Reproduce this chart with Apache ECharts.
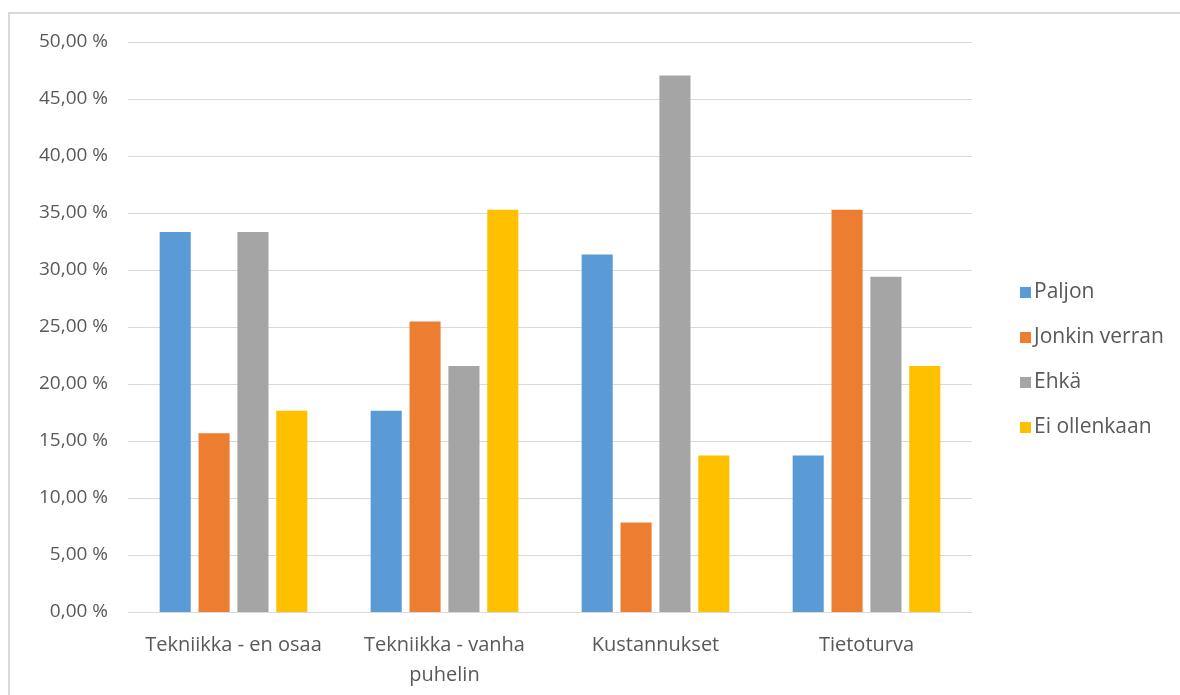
<!DOCTYPE html>
<html>
<head>
<meta charset="utf-8">
<script src="https://cdn.jsdelivr.net/npm/echarts@6/dist/echarts.min.js"></script>
<style>
  html, body { margin: 0; padding: 0; background: #fff; }
  #frame { position: absolute; left: 8px; top: 12px; width: 1200px; height: 720px;
           border-left: 2px solid #d9d9d9; border-top: 2px solid #d9d9d9; }
  #chart { position: absolute; left: 0; top: 0; width: 1180px; height: 695px; }
</style>
</head>
<body>
<div id="frame"></div>
<div id="chart"></div>
<script>
// Categories (x axis)
const categories = ['Tekniikka - en osaa', 'Tekniikka - vanha\npuhelin', 'Kustannukset', 'Tietoturva'];
// Series names
const seriesNames = ['Paljon', 'Jonkin verran', 'Ehkä', 'Ei ollenkaan'];
// Share of answers per category, percent
const paljon = [33.33, 17.65, 31.37, 13.73];
const jonkinVerran = [15.69, 25.49, 7.84, 35.29];
const ehka = [33.33, 21.57, 47.06, 29.41];
const eiOllenkaan = [17.65, 35.29, 13.73, 21.57];
const colors = ['#5b9bd5', '#ed7d31', '#a5a5a5', '#ffc000'];

const seriesData = [paljon, jonkinVerran, ehka, eiOllenkaan];
const fontFamily = '"Open Sans", "Noto Sans", sans-serif';

const chart = echarts.init(document.getElementById('chart'));
chart.setOption({
  animation: false,
  color: colors,
  textStyle: { fontFamily: fontFamily },
  grid: { left: 128, right: 208, top: 42, bottom: 83, containLabel: false },
  legend: {
    orient: 'vertical',
    left: 1015,
    top: 277,
    itemWidth: 11,
    itemHeight: 11,
    itemGap: 24,
    icon: 'rect',
    textStyle: { color: '#595959', fontSize: 21, fontFamily: fontFamily, padding: [0, 0, 0, -2] },
    data: seriesNames
  },
  xAxis: {
    type: 'category',
    data: categories,
    axisLine: { lineStyle: { color: '#d9d9d9', width: 1 } },
    axisTick: { show: false },
    axisLabel: { color: '#595959', fontSize: 20, margin: 18, lineHeight: 30, interval: 0 }
  },
  yAxis: {
    type: 'value',
    min: 0,
    max: 50,
    interval: 5,
    axisLine: { show: false },
    axisTick: { show: false },
    splitLine: { lineStyle: { color: '#d9d9d9', width: 1 } },
    axisLabel: {
      color: '#595959', fontSize: 19, margin: 20,
      formatter: v => v.toFixed(2).replace('.', ',') + ' %'
    }
  },
  series: seriesNames.map((name, i) => ({
    name: name,
    type: 'bar',
    data: seriesData[i],
    barGap: '25%',
    barCategoryGap: '30%'
  }))
});
</script>
</body>
</html>
